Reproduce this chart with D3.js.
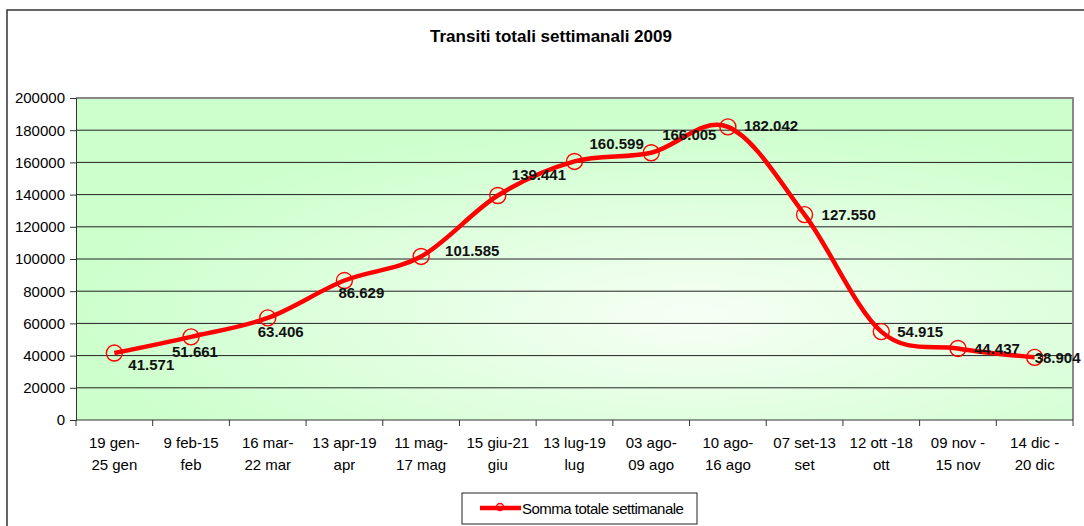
<!DOCTYPE html>
<html>
<head>
<meta charset="utf-8">
<script src="https://cdn.jsdelivr.net/npm/d3@7"></script>
<style>
  body { margin: 0; background: #fff; }
  svg { display: block; font-family: Arial, "Liberation Sans", sans-serif; }
</style>
</head>
<body>
<div id="chart"></div>
<script>
// categories, two lines each as in the original axis
const categories = [
    ["19 gen-", "25 gen"], ["9 feb-15", "feb"], ["16 mar-", "22 mar"],
    ["13 apr-19", "apr"], ["11 mag-", "17 mag"], ["15 giu-21", "giu"],
    ["13 lug-19", "lug"], ["03 ago-", "09 ago"], ["10 ago-", "16 ago"],
    ["07 set-13", "set"], ["12 ott -18", "ott"], ["09 nov -", "15 nov"],
    ["14 dic -", "20 dic"]
];
const values = [41571, 51661, 63406, 86629, 101585, 139441, 160599, 166005, 182042, 127550, 54915, 44437, 38904];
const yTicks = [0, 20000, 40000, 60000, 80000, 100000, 120000, 140000, 160000, 180000, 200000];
const seriesName = "Somma totale settimanale";
const title = "Transiti totali settimanali 2009";

// hand-placed data label nudges (like the original chart)
const labelNudge = [[14, 12], [-19, 15], [-10, 14], [-6, 12], [24, -6], [14, -21],
    [15, -18], [11, -18], [16, -1], [17, 0], [16, 0], [16, 0], [0, 0]];

const width = 1084, height = 526;
const plot = {left: 76, right: 1073, top: 98, bottom: 420};

const it = d3.formatLocale({decimal: ",", thousands: ".", grouping: [3], currency: ["€", ""]});
const fmtLabel = it.format(",d");

const svg = d3.select("#chart").append("svg")
    .attr("width", width)
    .attr("height", height);

// background gradient of the plot area
const defs = svg.append("defs");
const grad = defs.append("radialGradient")
    .attr("id", "bg")
    .attr("cx", 0.62).attr("cy", 0.68).attr("r", 0.62);
grad.append("stop").attr("offset", "0%").attr("stop-color", "#f7fff5");
grad.append("stop").attr("offset", "100%").attr("stop-color", "#ccffcc");

// outer frame
svg.append("rect")
    .attr("x", 7).attr("y", 10)
    .attr("width", width + 10).attr("height", height + 10)
    .attr("fill", "none").attr("stroke", "#333").attr("stroke-width", 1.5);

svg.append("text")
    .attr("x", 551).attr("y", 42)
    .attr("text-anchor", "middle")
    .attr("font-size", 17).attr("font-weight", "bold")
    .text(title);

const xScale = d3.scaleBand()
    .domain(d3.range(categories.length))
    .range([plot.left, plot.right])
    .padding(0);

const yScale = d3.scaleLinear()
    .domain([0, 200000])
    .range([plot.bottom, plot.top]);

svg.append("rect")
    .attr("x", plot.left).attr("y", plot.top)
    .attr("width", plot.right - plot.left).attr("height", plot.bottom - plot.top)
    .attr("fill", "url(#bg)");

// gridlines
svg.append("g")
    .selectAll("line")
    .data(yTicks.filter(d => d > 0 && d < 200000))
    .enter().append("line")
    .attr("x1", plot.left).attr("x2", plot.right)
    .attr("y1", d => yScale(d)).attr("y2", d => yScale(d))
    .attr("stroke", "#222").attr("stroke-width", 1);

// plot border top + right
svg.append("path")
    .attr("d", `M${plot.left},${plot.top}H${plot.right}V${plot.bottom}`)
    .attr("fill", "none").attr("stroke", "#888").attr("stroke-width", 2);

// y axis
const yAxis = svg.append("g")
    .attr("transform", `translate(${plot.left},0)`)
    .call(d3.axisLeft(yScale).tickValues(yTicks).tickFormat(d3.format("d")).tickSize(6).tickPadding(5));
yAxis.select(".domain").attr("stroke", "#333");
yAxis.selectAll(".tick line").attr("stroke", "#333");
yAxis.selectAll("text").attr("font-size", 15).attr("fill", "#000")
    .attr("font-family", "Arial, 'Liberation Sans', sans-serif");

// x axis: ticks on category boundaries
const xg = svg.append("g");
xg.append("line")
    .attr("x1", plot.left).attr("x2", plot.right)
    .attr("y1", plot.bottom).attr("y2", plot.bottom)
    .attr("stroke", "#333");
xg.selectAll(".xtick")
    .data(d3.range(categories.length + 1))
    .enter().append("line")
    .attr("x1", i => i < categories.length ? xScale(i) : plot.right)
    .attr("x2", i => i < categories.length ? xScale(i) : plot.right)
    .attr("y1", plot.bottom).attr("y2", plot.bottom + 6)
    .attr("stroke", "#333");
const xl = xg.selectAll(".xlab")
    .data(categories)
    .enter().append("text")
    .attr("text-anchor", "middle")
    .attr("font-size", 15)
    .attr("transform", (d, i) => `translate(${xScale(i) + xScale.bandwidth() / 2},0)`);
xl.selectAll("tspan")
    .data(d => d)
    .enter().append("tspan")
    .attr("x", 0)
    .attr("y", (d, j) => 448 + j * 22)
    .text(d => d);

// the series
const line = d3.line()
    .x((d, i) => xScale(i) + xScale.bandwidth() / 2)
    .y(d => yScale(d))
    .curve(d3.curveCatmullRom.alpha(0));

svg.append("path")
    .datum(values)
    .attr("d", line)
    .attr("fill", "none")
    .attr("stroke", "#ff0000")
    .attr("stroke-width", 4.5)
    .attr("stroke-linejoin", "round");

svg.selectAll(".dot")
    .data(values)
    .enter().append("circle")
    .attr("class", "dot")
    .attr("cx", (d, i) => xScale(i) + xScale.bandwidth() / 2)
    .attr("cy", d => yScale(d))
    .attr("r", 8)
    .attr("fill", "none")
    .attr("stroke", "#ff0000")
    .attr("stroke-width", 1.4);

svg.selectAll(".vlabel")
    .data(values)
    .enter().append("text")
    .attr("class", "vlabel")
    .attr("x", (d, i) => xScale(i) + xScale.bandwidth() / 2 + labelNudge[i][0])
    .attr("y", (d, i) => yScale(d) + labelNudge[i][1])
    .attr("dy", "0.36em")
    .attr("font-size", 15)
    .attr("font-weight", "bold")
    .attr("fill", "#111")
    .text(d => fmtLabel(d));

// legend
const lg = svg.append("g");
lg.append("rect")
    .attr("x", 462).attr("y", 493).attr("width", 235).attr("height", 31)
    .attr("fill", "#fff").attr("stroke", "#222").attr("stroke-width", 1);
lg.append("line")
    .attr("x1", 480).attr("x2", 521).attr("y1", 508).attr("y2", 508)
    .attr("stroke", "#ff0000").attr("stroke-width", 4.5);
lg.append("circle")
    .attr("cx", 500).attr("cy", 507).attr("r", 3.5)
    .attr("fill", "none").attr("stroke", "#ff0000").attr("stroke-width", 1.3);
lg.append("text")
    .attr("x", 522).attr("y", 514)
    .attr("font-size", 15)
    .attr("letter-spacing", -0.5)
    .text(seriesName);
</script>
</body>
</html>
